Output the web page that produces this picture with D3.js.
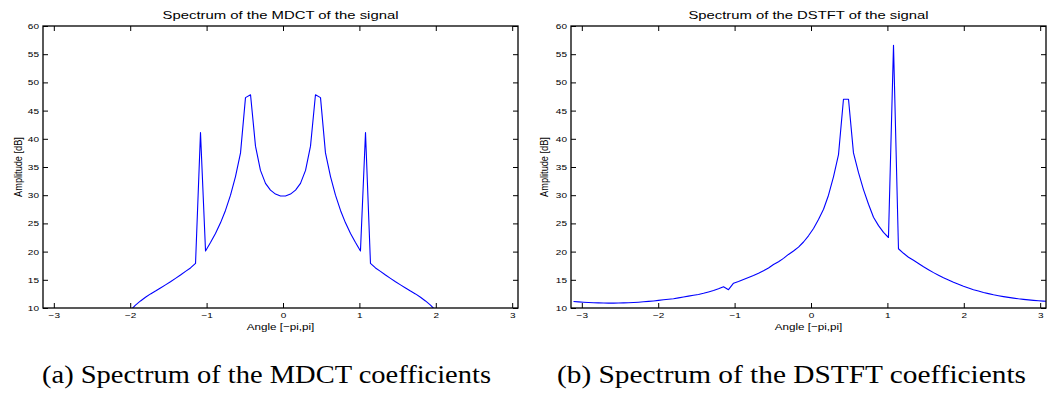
<!DOCTYPE html>
<html>
<head>
<meta charset="utf-8">
<script src="https://cdn.jsdelivr.net/npm/d3@7"></script>
<style>
  html, body { margin: 0; padding: 0; background: #fff; }
  svg { display: block; }
</style>
</head>
<body>
<svg id="chart" width="1048" height="394"></svg>
<script>
// Frequency grid (angle in radians), shared by both spectra
const angles = [
  -3.109,-3.043,-2.978,-2.912,-2.847,-2.781,-2.716,-2.651,-2.585,-2.520,-2.454,-2.389,
  -2.323,-2.258,-2.192,-2.127,-2.062,-1.996,-1.931,-1.865,-1.800,-1.734,-1.669,-1.604,
  -1.538,-1.473,-1.407,-1.342,-1.276,-1.211,-1.145,-1.080,-1.014,-0.949,-0.884,-0.818,
  -0.753,-0.687,-0.622,-0.556,-0.491,-0.425,-0.360,-0.295,-0.229,-0.164,-0.098,-0.033,
   0.033, 0.098, 0.164, 0.229, 0.295, 0.360, 0.425, 0.491, 0.556, 0.622, 0.687, 0.753,
   0.818, 0.884, 0.949, 1.014, 1.080, 1.145, 1.211, 1.276, 1.342, 1.407, 1.473, 1.538,
   1.604, 1.669, 1.734, 1.800, 1.865, 1.931, 1.996, 2.062, 2.127, 2.192, 2.258, 2.323,
   2.389, 2.454, 2.520, 2.585, 2.651, 2.716, 2.781, 2.847, 2.912, 2.978, 3.043, 3.109
];

// Spectrum of the MDCT (dB)
const mdctValues = [
  -31.0,-23.5,-18.6,-15.0,-12.0,-9.4,-7.1,-5.0,-3.0,-1.2,0.5,2.1,
  3.6,5.0,6.3,7.5,8.6,9.6,10.5,11.25,11.9,12.5,13.0,13.55,
  14.1,14.65,15.25,15.85,16.5,17.1,17.9,41.1,20.1,21.6,23.2,25.1,
  27.3,30.0,33.3,37.5,47.3,47.8,38.7,34.4,32.1,30.9,30.2,29.85,
  29.85,30.2,30.9,32.1,34.4,38.7,47.8,47.3,37.5,33.3,30.0,27.3,
  25.1,23.2,21.6,20.1,41.1,17.9,17.1,16.5,15.85,15.25,14.65,14.1,
  13.55,13.0,12.5,11.9,11.25,10.5,9.6,8.6,7.5,6.3,5.0,3.6,
  2.1,0.5,-1.2,-3.0,-5.0,-7.1,-9.4,-12.0,-15.0,-18.6,-23.5,-31.0
];

// Spectrum of the DSTFT (dB)
const dstftValues = [
  11.15,11.08,11.02,10.97,10.93,10.90,10.88,10.87,10.87,10.88,10.90,10.93,
  10.98,11.03,11.10,11.17,11.25,11.35,11.45,11.55,11.65,11.80,11.95,12.10,
  12.25,12.40,12.60,12.85,13.10,13.40,13.75,13.25,14.40,14.70,15.05,15.40,
  15.75,16.15,16.60,17.10,17.70,18.20,18.80,19.50,20.10,20.80,21.70,22.80,
  24.10,25.70,27.50,30.00,33.30,37.20,47.00,47.00,37.50,34.00,31.00,28.40,
  26.10,24.60,23.40,22.50,56.60,20.50,19.70,19.00,18.45,17.90,17.30,16.80,
  16.27,15.80,15.35,14.95,14.55,14.20,13.85,13.55,13.25,13.00,12.75,12.55,
  12.35,12.18,12.02,11.88,11.75,11.63,11.53,11.44,11.36,11.29,11.22,11.15
];

const xTicks = [-3, -2, -1, 0, 1, 2, 3];
const yTicks = [10, 15, 20, 25, 30, 35, 40, 45, 50, 55, 60];
const xDomain = [-Math.PI, Math.PI - Math.PI / 48];
const yDomain = [10, 60];

const titles = ["Spectrum of the MDCT of the signal", "Spectrum of the DSTFT of the signal"];
const captions = ["(a) Spectrum of the MDCT coefficients", "(b) Spectrum of the DSTFT coefficients"];
const xLabel = "Angle [\u2212pi,pi]";
const yLabel = "Amplitude [dB]";

const svg = d3.select("#chart");
const SANS = "'Liberation Sans', Arial, Helvetica, sans-serif";
const STRETCH = 1.25;

const panels = [
  { left: 43, right: 518, top: 26, bottom: 308, values: mdctValues, title: titles[0], caption: captions[0],
    titleLen: 236, capX: 42, capLen: 449, ylabX: 22 },
  { left: 571, right: 1046, top: 26, bottom: 308, values: dstftValues, title: titles[1], caption: captions[1],
    titleLen: 240, capX: 557, capLen: 469, ylabX: 548 }
];

const fmt = d => (d < 0 ? "\u2212" + Math.abs(d) : String(d));

function stretchTexts(sel) {
  sel.selectAll("text").each(function () {
    const t = d3.select(this);
    const x = +t.attr("x") || 0;
    t.attr("x", 0).attr("transform", `translate(${x},0) scale(${STRETCH},1)`);
  });
}

panels.forEach((p, idx) => {
  const x = d3.scaleLinear().domain(xDomain).range([p.left, p.right]);
  const y = d3.scaleLinear().domain(yDomain).range([p.bottom, p.top]);
  const g = svg.append("g");

  const clipId = "clip" + idx;
  svg.append("clipPath").attr("id", clipId)
    .append("rect").attr("x", p.left).attr("y", p.top)
    .attr("width", p.right - p.left).attr("height", p.bottom - p.top);

  // Axes with inward ticks on all four sides (MATLAB style)
  const axB = g.append("g").attr("transform", `translate(0,${p.bottom})`)
    .call(d3.axisBottom(x).tickValues(xTicks).tickFormat(fmt).tickSize(-5).tickPadding(4));
  const axT = g.append("g").attr("transform", `translate(0,${p.top})`)
    .call(d3.axisTop(x).tickValues(xTicks).tickFormat("").tickSize(-5));
  const axL = g.append("g").attr("transform", `translate(${p.left},0)`)
    .call(d3.axisLeft(y).tickValues(yTicks).tickSize(-5).tickPadding(4));
  const axR = g.append("g").attr("transform", `translate(${p.right},0)`)
    .call(d3.axisRight(y).tickValues(yTicks).tickFormat("").tickSize(-5));

  [axB, axT, axL, axR].forEach(a => {
    a.select(".domain").remove();
    a.selectAll("line").attr("stroke", "#000").attr("stroke-width", 1);
    a.selectAll("text").attr("font-family", SANS).attr("font-size", 8).attr("fill", "#000");
  });
  stretchTexts(axB);
  stretchTexts(axL);

  // Data line
  const line = d3.line().x((d, i) => x(angles[i])).y(d => y(d));
  g.append("path")
    .datum(p.values)
    .attr("clip-path", `url(#${clipId})`)
    .attr("fill", "none")
    .attr("stroke", "#0000ff")
    .attr("stroke-width", 1.1)
    .attr("stroke-linejoin", "round")
    .attr("d", line);

  // Box
  g.append("rect")
    .attr("x", p.left).attr("y", p.top)
    .attr("width", p.right - p.left).attr("height", p.bottom - p.top)
    .attr("fill", "none").attr("stroke", "#000").attr("stroke-width", 1.3);

  const cx = (p.left + p.right) / 2;

  // Title
  g.append("text")
    .attr("x", cx).attr("y", 18.5)
    .attr("text-anchor", "middle")
    .attr("font-family", SANS).attr("font-size", 11.3)
    .attr("textLength", p.titleLen).attr("lengthAdjust", "spacingAndGlyphs")
    .attr("fill", "#000")
    .text(p.title);

  // X label
  g.append("text")
    .attr("transform", `translate(${cx},329.5) scale(${STRETCH},1)`)
    .attr("text-anchor", "middle")
    .attr("font-family", SANS).attr("font-size", 9.3)
    .attr("fill", "#000")
    .text(xLabel);

  // Y label
  g.append("text")
    .attr("transform", `translate(${p.ylabX},${(p.top + p.bottom) / 2}) rotate(-90) scale(1,${STRETCH})`)
    .attr("text-anchor", "middle")
    .attr("font-family", SANS).attr("font-size", 9.2)
    .attr("fill", "#000")
    .text(yLabel);

  // Caption
  g.append("text")
    .attr("x", p.capX).attr("y", 383)
    .attr("font-family", "'Liberation Serif', 'DejaVu Serif', serif")
    .attr("font-size", 25)
    .attr("textLength", p.capLen).attr("lengthAdjust", "spacingAndGlyphs")
    .attr("fill", "#000")
    .text(p.caption);
});
</script>
</body>
</html>
